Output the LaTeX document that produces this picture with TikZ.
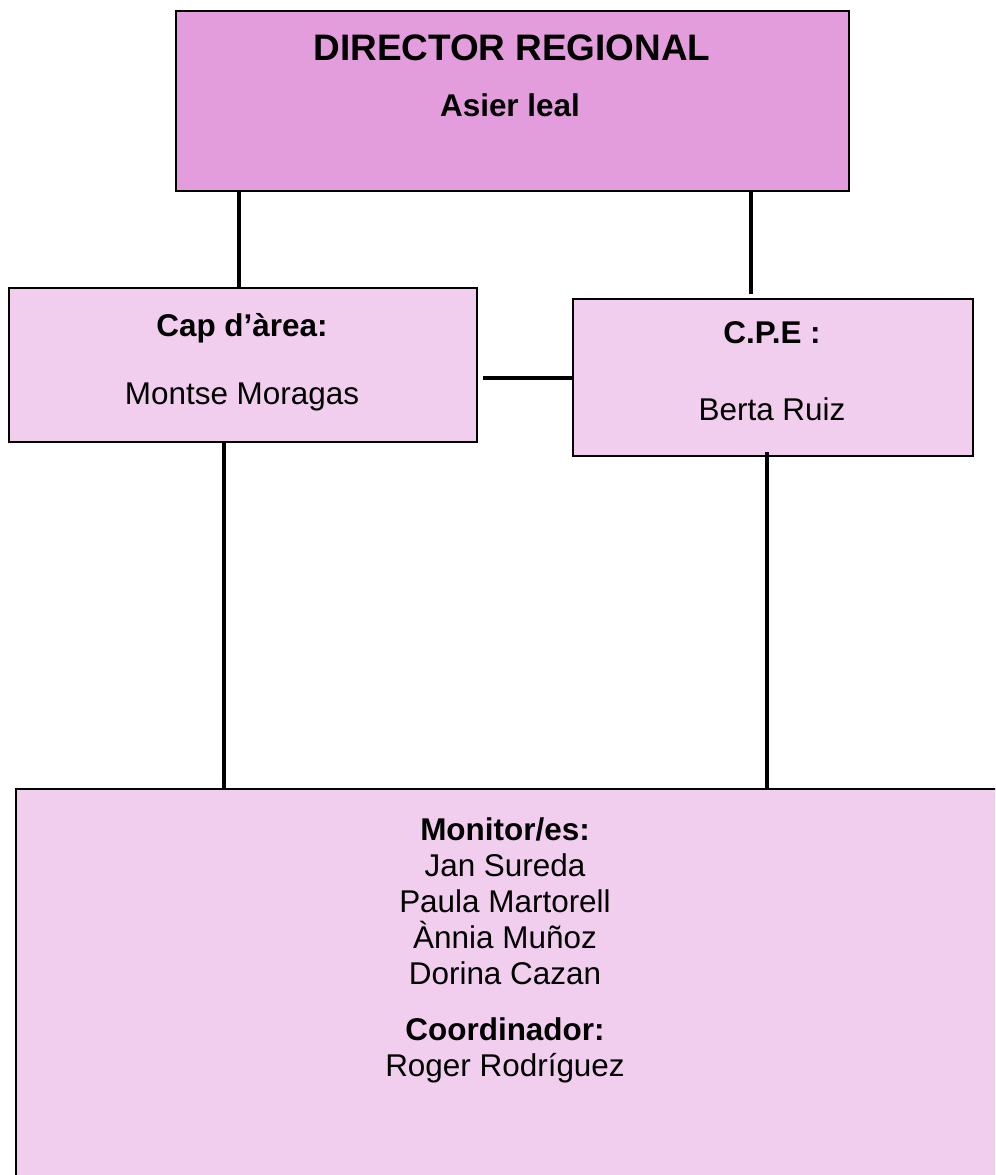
\documentclass[tikz,border=0pt]{standalone}
\usepackage{fontspec}
\setmainfont{Liberation Sans}
\usetikzlibrary{positioning}
\definecolor{dirpink}{HTML}{E39DDC}
\definecolor{boxpink}{HTML}{F1CEEE}

\begin{document}
\begin{tikzpicture}[x=0.02cm, y=-0.02cm,
        box/.style={draw, line width=1.1pt, fill=boxpink, rectangle, inner sep=0pt, anchor=north west},
        link/.style={line width=2.4pt},
        txt/.style={font=\fontsize{17.9}{20.5}\selectfont, anchor=base, inner sep=0pt},
        bold/.style={txt, font=\fontsize{17.9}{20.5}\selectfont\bfseries}]
                \useasboundingbox (0,0) rectangle (995,1175);
                \clip (0,0) rectangle (995,1175);
                % boxes
                \node[box, fill=dirpink, minimum width=13.46cm, minimum height=3.6cm] (dir) at (175,10) {};
                \node[box, minimum width=9.36cm, minimum height=3.08cm] (cap) at (8,287) {};
                \node[box, minimum width=8cm, minimum height=3.14cm] (cpe) at (572,298) {};
                \node[box, minimum width=21cm, minimum height=8.4cm] (mon) at (15,788) {};

                % texts
                \node[bold, font=\fontsize{21}{24}\selectfont\bfseries] (dirt) at (512,61) {DIRECTOR REGIONAL};
                \node[bold] (dirn) at (510,117) {Asier leal};
                \node[bold] (capt) at (242,337) {Cap d’àrea:};
                \node[txt]  (capn) at (242,404) {Montse Moragas};
                \node[bold] (cpet) at (772,344) {C.P.E :};
                \node[txt]  (cpen) at (772,420) {Berta Ruiz};
                \node[bold] (mont) at (505,840) {Monitor/es:};
                \foreach \name [count=\i] in {Jan Sureda, Paula Martorell, Ànnia Muñoz, Dorina Cazan}
                    \node[txt] (mon\i) at (505,840+36*\i) {\name};
                \node[bold] (coot) at (505,1040) {Coordinador:};
                \node[txt]  (coon) at (505,1076) {Roger Rodríguez};

                % links
                \draw[link] (dir.south -| 239,0) -- (cap.north -| 239,0);
                \draw[link] (dir.south -| 751,0) -- (751,294);
                \draw[link] (483,378) -- (cpe.west |- 0,378);
                \draw[link] (cap.south -| 224,0) -- (mon.north -| 224,0);
                \draw[link] (767,452) -- (mon.north -| 767,0);
\end{tikzpicture}
\end{document}
